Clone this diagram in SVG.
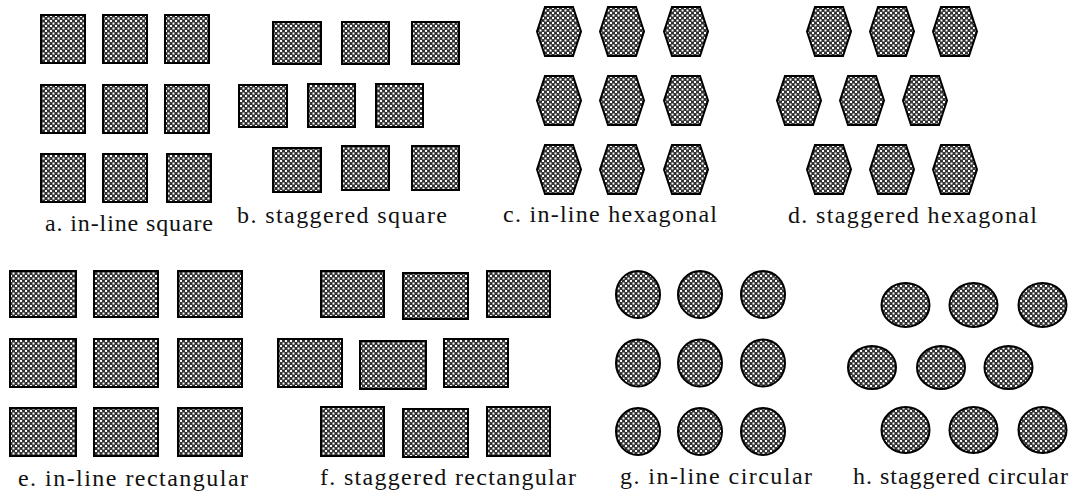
<svg xmlns="http://www.w3.org/2000/svg" xmlns:xlink="http://www.w3.org/1999/xlink" width="1073" height="495" viewBox="0 0 1073 495">
<style>
.s{fill:url(#hatch);stroke:#000;stroke-width:2}
.lbl{font-family:"Liberation Serif","DejaVu Serif",serif;font-size:24px;fill:#111}
</style>
<defs>
<pattern id="hatch" patternUnits="userSpaceOnUse" width="5" height="5">
<rect width="5" height="5" fill="#333"/>
<rect x="0" y="0" width="2" height="2" fill="#fff"/>
<rect x="2.5" y="2.5" width="2" height="2" fill="#fff"/>
</pattern>
<polygon id="hex" points="8,0 36,0 44,24.5 36,49 8,49 0,24.5"/>
</defs>
<rect width="1073" height="495" fill="#fff"/>

<g id="panel-a">
<rect class="s" x="41" y="15" width="44" height="48"/>
<rect class="s" x="103" y="15" width="44" height="48"/>
<rect class="s" x="165" y="15" width="44" height="48"/>
<rect class="s" x="41" y="85" width="44" height="48"/>
<rect class="s" x="103" y="85" width="44" height="48"/>
<rect class="s" x="165" y="85" width="44" height="48"/>
<rect class="s" x="41" y="154" width="44" height="48"/>
<rect class="s" x="103" y="154" width="44" height="48"/>
<rect class="s" x="167" y="154" width="44" height="48"/>
<text class="lbl" x="45" y="231" textLength="168" lengthAdjust="spacing">a. in-line  square</text>
</g>

<g id="panel-b">
<rect class="s" x="273" y="22" width="48" height="42"/>
<rect class="s" x="342" y="22" width="47" height="42"/>
<rect class="s" x="412" y="22" width="47" height="42"/>
<rect class="s" x="239" y="85" width="48" height="42"/>
<rect class="s" x="308" y="84" width="47" height="43"/>
<rect class="s" x="376" y="84" width="47" height="43"/>
<rect class="s" x="273" y="148" width="48" height="44"/>
<rect class="s" x="342" y="146" width="47" height="44"/>
<rect class="s" x="412" y="146" width="47" height="44"/>
<text class="lbl" x="237" y="223" textLength="210" lengthAdjust="spacing">b. staggered square</text>
</g>

<g id="panel-c">
<use class="s" xlink:href="#hex" x="537" y="7"/>
<use class="s" xlink:href="#hex" x="600" y="7"/>
<use class="s" xlink:href="#hex" x="664" y="7"/>
<use class="s" xlink:href="#hex" x="537" y="76"/>
<use class="s" xlink:href="#hex" x="600" y="76"/>
<use class="s" xlink:href="#hex" x="664" y="76"/>
<use class="s" xlink:href="#hex" x="537" y="145"/>
<use class="s" xlink:href="#hex" x="600" y="145"/>
<use class="s" xlink:href="#hex" x="664" y="145"/>
<text class="lbl" x="503" y="222" textLength="214" lengthAdjust="spacing">c. in-line  hexagonal</text>
</g>

<g id="panel-d">
<use class="s" xlink:href="#hex" x="807" y="7"/>
<use class="s" xlink:href="#hex" x="870" y="7"/>
<use class="s" xlink:href="#hex" x="933" y="7"/>
<use class="s" xlink:href="#hex" x="777" y="76"/>
<use class="s" xlink:href="#hex" x="840" y="76"/>
<use class="s" xlink:href="#hex" x="903" y="76"/>
<use class="s" xlink:href="#hex" x="807" y="145"/>
<use class="s" xlink:href="#hex" x="870" y="145"/>
<use class="s" xlink:href="#hex" x="933" y="145"/>
<text class="lbl" x="788" y="223" textLength="249" lengthAdjust="spacing">d. staggered hexagonal</text>
</g>

<g id="panel-e">
<rect class="s" x="10" y="271" width="66" height="46"/>
<rect class="s" x="94" y="271" width="64" height="46"/>
<rect class="s" x="178" y="271" width="64" height="46"/>
<rect class="s" x="10" y="339" width="66" height="48"/>
<rect class="s" x="94" y="339" width="64" height="48"/>
<rect class="s" x="178" y="339" width="64" height="48"/>
<rect class="s" x="10" y="408" width="66" height="48"/>
<rect class="s" x="94" y="408" width="64" height="48"/>
<rect class="s" x="178" y="408" width="64" height="48"/>
<text class="lbl" x="18" y="486" textLength="230" lengthAdjust="spacing">e. in-line  rectangular</text>
</g>

<g id="panel-f">
<rect class="s" x="321" y="271" width="63" height="46"/>
<rect class="s" x="403" y="273" width="65" height="46"/>
<rect class="s" x="487" y="271" width="63" height="46"/>
<rect class="s" x="278" y="339" width="64" height="48"/>
<rect class="s" x="360" y="341" width="66" height="48"/>
<rect class="s" x="444" y="339" width="64" height="48"/>
<rect class="s" x="321" y="407" width="63" height="49"/>
<rect class="s" x="403" y="409" width="65" height="48"/>
<rect class="s" x="487" y="407" width="63" height="49"/>
<text class="lbl" x="320" y="485" textLength="256" lengthAdjust="spacing">f. staggered rectangular</text>
</g>

<g id="panel-g">
<ellipse class="s" cx="638" cy="294.5" rx="22" ry="23.5"/>
<ellipse class="s" cx="700" cy="294.5" rx="22" ry="23.5"/>
<ellipse class="s" cx="763" cy="294.5" rx="22" ry="23.5"/>
<ellipse class="s" cx="638" cy="363" rx="22" ry="23.5"/>
<ellipse class="s" cx="700" cy="363" rx="22" ry="23.5"/>
<ellipse class="s" cx="763" cy="363" rx="22" ry="23.5"/>
<ellipse class="s" cx="638" cy="431.5" rx="22" ry="23.5"/>
<ellipse class="s" cx="700" cy="431.5" rx="22" ry="23.5"/>
<ellipse class="s" cx="763" cy="431.5" rx="22" ry="23.5"/>
<text class="lbl" x="620" y="484" textLength="192" lengthAdjust="spacing">g. in-line  circular</text>
</g>

<g id="panel-h">
<ellipse class="s" cx="905.5" cy="305" rx="24" ry="22"/>
<ellipse class="s" cx="973.5" cy="305" rx="24" ry="22"/>
<ellipse class="s" cx="1042.5" cy="305" rx="24" ry="22"/>
<ellipse class="s" cx="872" cy="367.5" rx="24" ry="21.5"/>
<ellipse class="s" cx="941" cy="367.5" rx="24" ry="21.5"/>
<ellipse class="s" cx="1008.5" cy="367.5" rx="24" ry="21.5"/>
<ellipse class="s" cx="905.5" cy="430" rx="24" ry="23"/>
<ellipse class="s" cx="973.5" cy="430" rx="24" ry="23"/>
<ellipse class="s" cx="1042.5" cy="430" rx="24" ry="23"/>
<text class="lbl" x="853" y="484" textLength="215" lengthAdjust="spacing">h. staggered circular</text>
</g>

<g id="connectors"/>
</svg>
